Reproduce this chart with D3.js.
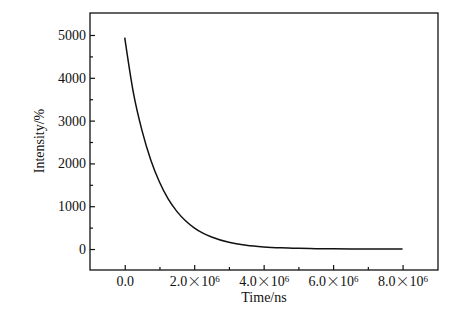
<!DOCTYPE html>
<html><head><meta charset="utf-8">
<script src="https://cdn.jsdelivr.net/npm/d3@7"></script>
<style>body{margin:0;background:#fff}svg{display:block}text{font-family:"Liberation Serif","DejaVu Serif",serif;fill:#111}</style>
</head><body>
<script>
const timeNs = [0, 0.25e6, 0.5e6, 0.75e6, 1.0e6, 1.25e6, 1.5e6, 1.75e6, 2.0e6, 2.25e6, 2.5e6, 3.0e6, 3.5e6, 4.0e6, 4.5e6, 5.0e6, 5.5e6, 6.0e6, 7.0e6, 8.0e6];
const intensity = [4940, 3650, 2760, 2080, 1565, 1170, 880, 660, 495, 370, 280, 157, 88, 50, 28, 16, 9, 5, 2, 0];
const xTicks = [0, 2e6, 4e6, 6e6, 8e6];
const xMinorTicks = [1e6, 3e6, 5e6, 7e6];
const yTicks = [0, 1000, 2000, 3000, 4000, 5000];
const yMinorTicks = [500, 1500, 2500, 3500, 4500];

const W = 473, H = 325;
const m = {l: 90, t: 13, r: 35, b: 55};
const svg = d3.select("body").append("svg").attr("width", W).attr("height", H);
const x = d3.scaleLinear().domain([-1e6, 9.02e6]).range([m.l, W - m.r]);
const y = d3.scaleLinear().domain([-490, 5514]).range([H - m.b, m.t]);

// curve
svg.append("path").datum(timeNs.map((t, i) => [t, intensity[i]]))
  .attr("fill", "none").attr("stroke", "#111").attr("stroke-width", 1.5)
  .attr("d", d3.line().x(d => x(d[0])).y(d => y(d[1])).curve(d3.curveMonotoneX));

// y axis
const gy = svg.append("g").attr("transform", `translate(${m.l},0)`)
  .call(d3.axisLeft(y).tickValues(yTicks).tickSize(-5).tickPadding(4).tickFormat(d3.format("d")));
gy.select(".domain").remove();
gy.selectAll("text").style("font-size", "14px").attr("fill", "#111");
gy.selectAll("line").attr("stroke", "#111").attr("stroke-width", 1.2);
const gym = svg.append("g").attr("transform", `translate(${m.l},0)`)
  .call(d3.axisLeft(y).tickValues(yMinorTicks).tickSize(-3).tickFormat(""));
gym.select(".domain").remove();
gym.selectAll("line").attr("stroke", "#111").attr("stroke-width", 1.2);

// x axis
const gx = svg.append("g").attr("transform", `translate(0,${H - m.b})`)
  .call(d3.axisBottom(x).tickValues(xTicks).tickSize(-5).tickPadding(6).tickFormat(() => ""));
gx.select(".domain").remove();
gx.selectAll("line").attr("stroke", "#111").attr("stroke-width", 1.2);
gx.selectAll(".tick text").each(function(d) {
  const t = d3.select(this).style("font-size", "14px").attr("fill", "#111");
  if (d === 0) { t.text("0.0"); return; }
  t.append("tspan").text((d / 1e6).toFixed(1));
  t.append("tspan").style("font-family", "'Noto Sans CJK SC'").style("font-size", "14px").style("font-weight", "300").text("×");
  t.append("tspan").text("10");
  t.append("tspan").attr("dy", "-0.45em").style("font-size", "9px").text("6");
});
const gxm = svg.append("g").attr("transform", `translate(0,${H - m.b})`)
  .call(d3.axisBottom(x).tickValues(xMinorTicks).tickSize(-3).tickFormat(""));
gxm.select(".domain").remove();
gxm.selectAll("line").attr("stroke", "#111").attr("stroke-width", 1.2);

// frame
svg.append("rect").attr("x", m.l).attr("y", m.t).attr("width", W - m.r - m.l).attr("height", H - m.b - m.t)
  .attr("fill", "none").attr("stroke", "#111").attr("stroke-width", 1.3);

// titles
svg.append("text").attr("x", (m.l + W - m.r) / 2).attr("y", 302).attr("text-anchor", "middle")
  .style("font-size", "14px").text("Time/ns");
svg.append("text").attr("transform", `translate(44,141) rotate(-90)`).attr("text-anchor", "middle")
  .style("font-size", "14px").text("Intensity/%");
</script>
</body></html>
